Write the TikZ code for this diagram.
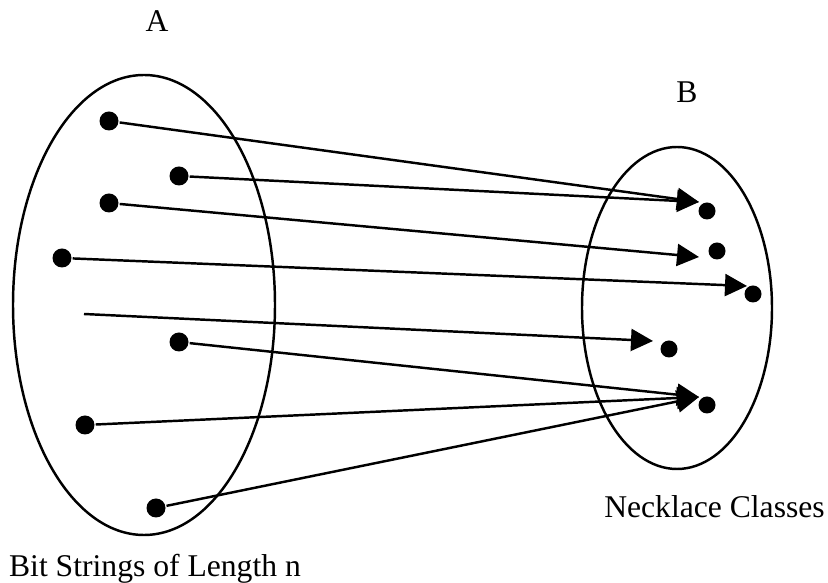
\documentclass[tikz,border=0pt]{standalone}
\usepackage{fontspec}
\setmainfont{Liberation Serif}
\usetikzlibrary{arrows.meta}

\begin{document}
\begin{tikzpicture}[>={Triangle[length=0.44cm, width=0.44cm]}, line width=1.4pt,
		dot/.style={circle, fill=black, inner sep=0pt, minimum size=0.38cm},
		petitdot/.style={circle, fill=black, inner sep=0pt, minimum size=0.34cm},
		etiquette/.style={font=\fontsize{18}{20}\selectfont, anchor=base}]
		\useasboundingbox (0,0) rectangle (16.56,11.66);

		% Les deux ensembles
		\draw (2.88,5.56) ellipse (2.62 and 4.60);
		\draw (13.54,5.50) ellipse (1.90 and 3.22);
		\node[etiquette] (nA) at (3.14,11.02) {A};
		\node[etiquette] (nB) at (13.74,9.60) {B};
		\node[etiquette] (bits) at (3.10,0.12) {Bit Strings of Length n};
		\node[etiquette] (colliers) at (14.29,1.30) {Necklace Classes};

		% Points de A
		\node[dot] (a1) at (2.18,9.24) {};
		\node[dot] (a2) at (3.58,8.14) {};
		\node[dot] (a3) at (2.18,7.60) {};
		\node[dot] (a4) at (1.24,6.50) {};
		\coordinate (a5) at (1.68,5.38);
		\node[dot] (a6) at (3.58,4.82) {};
		\node[dot] (a7) at (1.70,3.16) {};
		\node[dot] (a8) at (3.12,1.50) {};

		% Points de B
		\node[petitdot] (b1) at (14.14,7.44) {};
		\node[petitdot] (b2) at (14.34,6.64) {};
		\node[petitdot] (b3) at (15.06,5.78) {};
		\node[petitdot] (b4) at (13.38,4.68) {};
		\node[petitdot] (b5) at (14.14,3.56) {};

		% Bouts des flèches
		\coordinate (t1) at (13.98,7.62);
		\coordinate (t2) at (13.98,6.52);
		\coordinate (t3) at (14.94,5.94);
		\coordinate (t4) at (13.06,4.84);
		\coordinate (t5) at (13.98,3.72);

		% Flèches
		\draw[->] (a1) -- (t1);
		\draw[->] (a2) -- (t1);
		\draw[->] (a3) -- (t2);
		\draw[->] (a4) -- (t3);
		\draw[->] (a5) -- (t4);
		\draw[->] (a6) -- (t5);
		\draw[->] (a7) -- (t5);
		\draw[->] (a8) -- (t5);
	\end{tikzpicture}
\end{document}
